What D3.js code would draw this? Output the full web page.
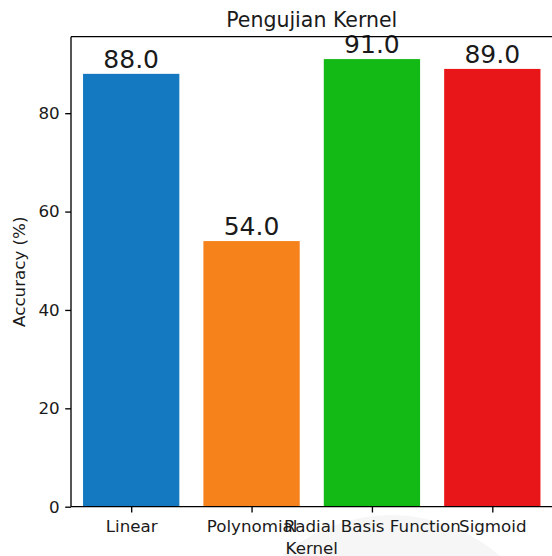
<!DOCTYPE html>
<html>
<head>
<meta charset="utf-8">
<script src="https://cdn.jsdelivr.net/npm/d3@7"></script>
<style>
  html, body { margin: 0; padding: 0; background: #fff; }
  svg { display: block; }
  text { font-family: "DejaVu Sans", sans-serif; fill: #1a1a1a; }
</style>
</head>
<body>
<div id="chart"></div>
<script>
const categories = ["Linear", "Polynomial", "Radial Basis Function", "Sigmoid"];
const accuracy = [88.0, 54.0, 91.0, 89.0];
const barColors = ["#1479c1", "#f5821a", "#13b914", "#e81519"];
const yTicks = [0, 20, 40, 60, 80];
const titleText = "Pengujian Kernel";
const xLabel = "Kernel";
const yLabel = "Accuracy (%)";

(function () {
const W = 552, H = 556;
const mL = 71, mR = 552.5, mT = 36.7, mB = 506.7;

const svg = d3.select("#chart").append("svg").attr("width", W).attr("height", H);

// faint background circle seen in the lower right of the picture
svg.append("circle").attr("cx", 391).attr("cy", 680).attr("r", 165).attr("fill", "#f6f6f6");

const x = d3.scaleLinear().domain([-0.5, 3.5]).range([mL, mR]);
const y = d3.scaleLinear().domain([0, 95.55]).range([mB, mT]);
const bw = x(0.4) - x(-0.4);

svg.selectAll("rect.bar").data(accuracy).enter().append("rect")
  .attr("class", "bar")
  .attr("x", (d, i) => x(i) - bw / 2)
  .attr("y", d => y(d))
  .attr("width", bw)
  .attr("height", d => y(0) - y(d))
  .attr("fill", (d, i) => barColors[i]);

svg.selectAll("text.val").data(accuracy).enter().append("text")
  .attr("class", "val")
  .attr("x", (d, i) => x(i))
  .attr("y", d => y(d) - 6)
  .attr("text-anchor", "middle")
  .attr("font-size", 25)
  .text(d => d.toFixed(1));

// y axis
const yAxis = d3.axisLeft(y).tickValues(yTicks).tickSize(5.8).tickPadding(5.5).tickFormat(d3.format("d"));
const gy = svg.append("g").attr("transform", `translate(${mL},0)`).call(yAxis);
gy.select(".domain").remove();
gy.selectAll(".tick line").attr("stroke", "#000").attr("stroke-width", 1.33);
gy.selectAll(".tick text").attr("font-size", 16.7).attr("font-family", "DejaVu Sans").attr("fill", "#1a1a1a");

// x axis
const xAxis = d3.axisBottom(x).tickValues(d3.range(categories.length)).tickSize(5.8).tickPadding(5.5)
  .tickFormat(i => categories[i]);
const gx = svg.append("g").attr("transform", `translate(0,${mB})`).call(xAxis);
gx.select(".domain").remove();
gx.selectAll(".tick line").attr("stroke", "#000").attr("stroke-width", 1.33);
gx.selectAll(".tick text").attr("font-size", 16.7).attr("font-family", "DejaVu Sans").attr("fill", "#1a1a1a")
  .attr("dy", null).attr("y", 25.6);

// spines (right spine lies just beyond the visible picture)
const sp = svg.append("g").attr("stroke", "#000").attr("stroke-width", 1.33).attr("fill", "none");
sp.append("line").attr("x1", mL).attr("x2", mL).attr("y1", mT).attr("y2", mB);
sp.append("line").attr("x1", mL).attr("x2", mR + 2).attr("y1", mB).attr("y2", mB);
sp.append("line").attr("x1", mL).attr("x2", mR + 2).attr("y1", mT).attr("y2", mT);
sp.append("line").attr("x1", mR + 2).attr("x2", mR + 2).attr("y1", mT).attr("y2", mB);

// title & labels
svg.append("text").attr("x", (mL + mR) / 2).attr("y", 26.5).attr("text-anchor", "middle")
  .attr("font-size", 20.5).text(titleText);
svg.append("text").attr("x", (mL + mR) / 2).attr("y", 554).attr("text-anchor", "middle")
  .attr("font-size", 16.7).text(xLabel);
svg.append("text").attr("transform", `translate(24.5,${(mT + mB) / 2}) rotate(-90)`)
  .attr("text-anchor", "middle").attr("font-size", 16.7).text(yLabel);
})();
</script>
</body>
</html>
